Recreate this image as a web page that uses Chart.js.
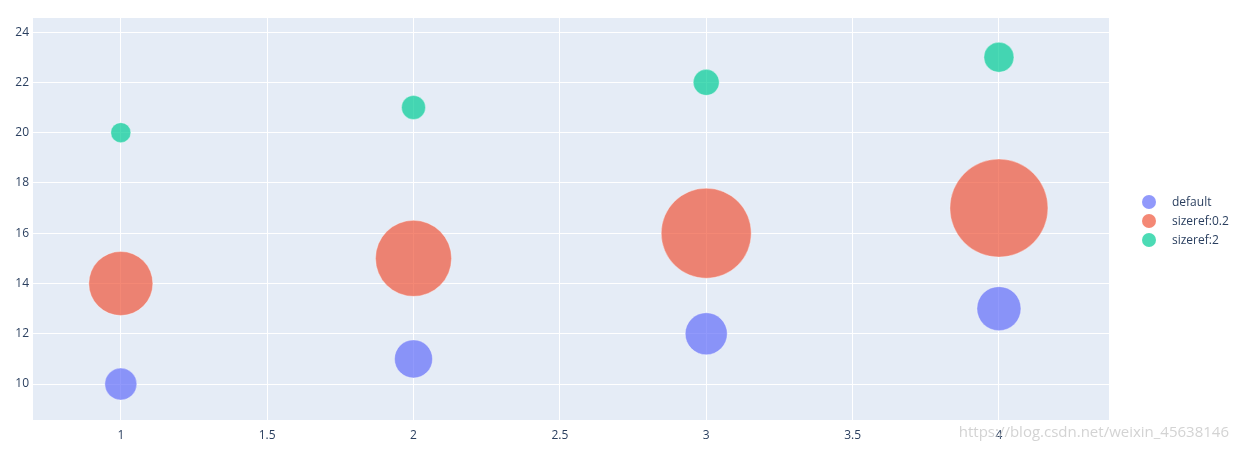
<!DOCTYPE html>
<html><head><meta charset="utf-8">
<script src="https://cdn.jsdelivr.net/npm/chart.js@4"></script>
<style>
body{margin:0;background:#fff;font-family:"Open Sans",sans-serif;}
#wrap{position:relative;width:1239px;height:449px;}
#leg{position:absolute;left:1142px;top:193px;font-size:12px;color:#2a3f5f;}
#leg div{height:19px;display:flex;align-items:center;}
#leg span{display:inline-block;width:14px;height:14px;border-radius:50%;margin-right:16px;}
#wm{position:absolute;right:10px;bottom:8px;font-size:15px;color:rgba(200,200,200,0.8);}
</style></head><body>
<div id="wrap"><canvas id="c" width="1239" height="449"></canvas>
<div id="leg" style="top:192px">
<div><span style="background:rgba(99,110,250,0.7)"></span>default</div>
<div><span style="background:rgba(239,85,59,0.7)"></span>sizeref:0.2</div>
<div><span style="background:rgba(0,204,150,0.7)"></span>sizeref:2</div>
</div>
<div id="wm">https://blog.csdn.net/weixin_45638146</div>
</div>
<script>
const xValues=[1,2,3,4];
const defaultY=[10,11,12,13];
const sizeref02Y=[14,15,16,17];
const sizeref2Y=[20,21,22,23];
const defaultR=[16,19,21,22];
const sizeref02R=[32,38,45,49];
const sizeref2R=[10,12,13,15];
const xTicks=[1,1.5,2,2.5,3,3.5,4];
const yTicks=[10,12,14,16,18,20,22,24];
Chart.BubbleController.prototype.getMaxOverflow=function(){return false;};
const mk=(ys,rs)=>xValues.map((x,i)=>({x:x,y:ys[i],r:rs[i]}));
const bg={id:'bg',beforeDraw(c){const a=c.chartArea,ctx=c.ctx;ctx.save();ctx.fillStyle='#E5ECF6';ctx.fillRect(a.left,a.top,a.right-a.left,a.bottom-a.top);ctx.restore();}};
new Chart(document.getElementById('c'),{type:'bubble',
data:{datasets:[
{label:'default',data:mk(defaultY,defaultR),backgroundColor:'rgba(99,110,250,0.7)',borderColor:'rgba(255,255,255,0.7)',borderWidth:0.5},
{label:'sizeref:0.2',data:mk(sizeref02Y,sizeref02R),backgroundColor:'rgba(239,85,59,0.7)',borderColor:'rgba(255,255,255,0.7)',borderWidth:0.5},
{label:'sizeref:2',data:mk(sizeref2Y,sizeref2R),backgroundColor:'rgba(0,204,150,0.7)',borderColor:'rgba(255,255,255,0.7)',borderWidth:0.5}]},
options:{responsive:false,animation:false,clip:false,
layout:{padding:{top:18,right:130,left:0,bottom:0}},
plugins:{legend:{display:false},tooltip:{enabled:false}},
scales:{
x:{type:'linear',min:0.7,max:4.376,
afterBuildTicks:s=>{s.ticks=xTicks.map(v=>({value:v}));},
afterFit:s=>{s.height=29;},
grid:{color:'#fff',lineWidth:1,drawTicks:false},border:{display:false},
ticks:{color:'#2a3f5f',font:{family:'Open Sans',size:12},padding:8,maxRotation:0,callback:v=>String(v)}},
y:{type:'linear',min:8.57,max:24.56,
afterBuildTicks:s=>{s.ticks=yTicks.map(v=>({value:v}));},
afterFit:s=>{s.width=33;},
grid:{color:'#fff',lineWidth:1,drawTicks:false},border:{display:false},
ticks:{color:'#2a3f5f',font:{family:'Open Sans',size:12},padding:4,callback:v=>String(v)}}}},
plugins:[bg]});
</script></body></html>
